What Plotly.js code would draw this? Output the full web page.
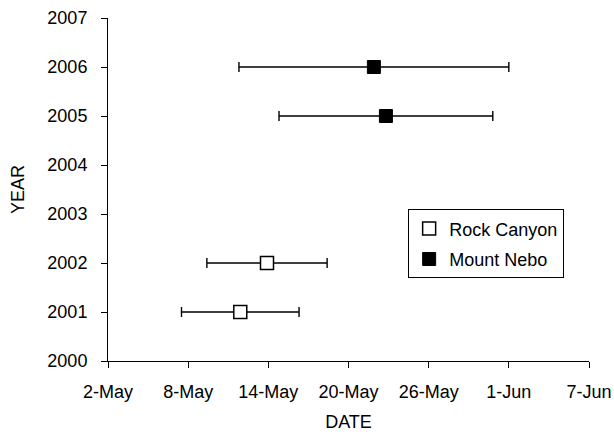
<!DOCTYPE html>
<html>
<head>
<meta charset="utf-8">
<script src="https://cdn.plot.ly/plotly-3.0.1.min.js"></script>
<style>html,body{margin:0;padding:0;background:#fff;}#chart{width:614px;height:434px;}</style>
</head>
<body>
<div id="chart"></div>
<script>
// x values are day of May (e.g. 32 = 1-Jun)
const tickVals = [2, 8, 14, 20, 26, 32, 38];
const tickLabels = ["2-May", "8-May", "14-May", "20-May", "26-May", "1-Jun", "7-Jun"];

const rockYears = [2001, 2002];
const rockDate = [11.9, 13.9];
const rockErr = [4.4, 4.5];

const neboYears = [2005, 2006];
const neboDate = [22.8, 21.9];
const neboErr = [8.0, 10.1];

const font = "Liberation Sans, Arial, sans-serif";

const traces = [
  {
    name: "Rock Canyon", x: rockDate, y: rockYears, type: "scatter", mode: "markers",
    legendgroup: "a",
    marker: {symbol: "square", size: 13, color: "#ffffff", line: {color: "#000", width: 1.5}},
    error_x: {type: "data", array: rockErr, visible: true, color: "#000", thickness: 1.4, width: 5}
  },
  {
    name: "Mount Nebo", x: neboDate, y: neboYears, type: "scatter", mode: "markers",
    legendgroup: "b",
    marker: {symbol: "square", size: 13, color: "#000", line: {color: "#000", width: 1}},
    error_x: {type: "data", array: neboErr, visible: true, color: "#000", thickness: 1.4, width: 5}
  }
];

const layout = {
  width: 614, height: 434,
  margin: {l: 108, r: 25, t: 18, b: 73},
  paper_bgcolor: "#fff", plot_bgcolor: "#fff",
  font: {family: font, size: 18, color: "#000"},
  showlegend: true,
  legend: {
    x: 0.624, y: 0.442, xanchor: "left", yanchor: "top",
    bordercolor: "#000", borderwidth: 1, bgcolor: "#fff",
    font: {family: font, size: 18, color: "#000"},
    itemwidth: 30,
    traceorder: "grouped", tracegroupgap: 4
  },
  xaxis: {
    range: [2, 38], tickvals: tickVals, ticktext: tickLabels,
    showgrid: false, zeroline: false, showline: true, linecolor: "#000", linewidth: 1,
    ticks: "outside", ticklen: 6, tickcolor: "#000", ticklabelstandoff: 8,
    title: {text: "DATE", font: {family: font, size: 18}, standoff: 14}
  },
  yaxis: {
    range: [2000, 2007], dtick: 1, tickformat: "d",
    showgrid: false, zeroline: false, showline: true, linecolor: "#000", linewidth: 1,
    ticks: "outside", ticklen: 6, tickcolor: "#000", ticklabelstandoff: 10,
    title: {text: "YEAR", font: {family: font, size: 18}, standoff: 18}
  }
};

Plotly.newPlot("chart", traces, layout, {displayModeBar: false, staticPlot: true});
</script>
</body>
</html>
